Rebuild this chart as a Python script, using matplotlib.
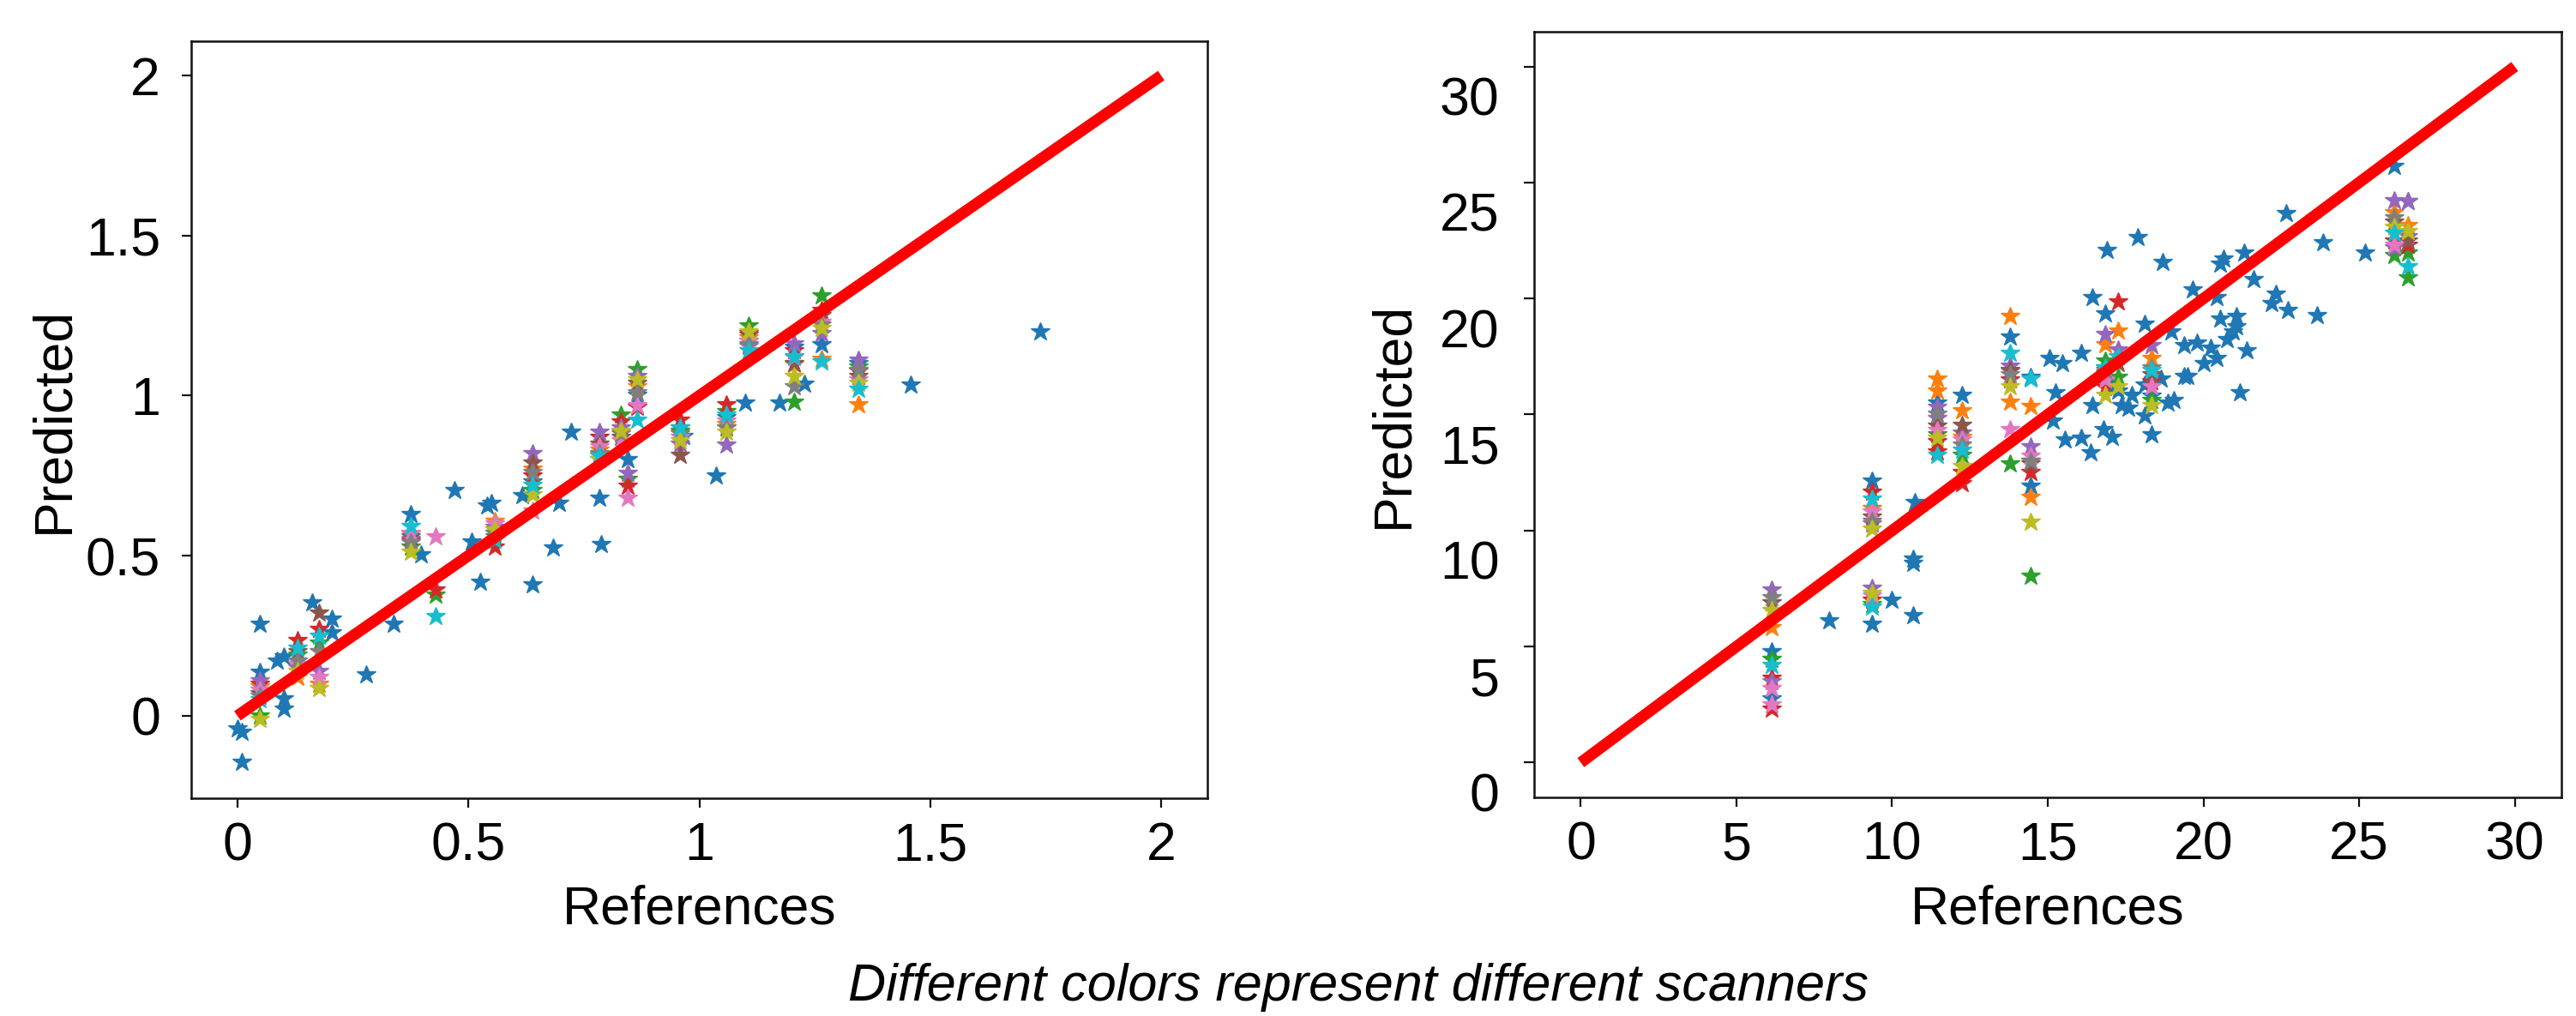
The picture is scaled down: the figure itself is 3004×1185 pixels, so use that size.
import numpy as np
import matplotlib
matplotlib.use("Agg")
import matplotlib.pyplot as plt
from matplotlib.ticker import FormatStrFormatter
from matplotlib.transforms import ScaledTranslation

plt.rcParams['font.family'] = ['Liberation Sans', 'DejaVu Sans']

# scanner colours (tab10 order)
scanner_colors = ['#1f77b4', '#ff7f0e', '#2ca02c', '#d62728', '#9467bd',
                  '#8c564b', '#e377c2', '#7f7f7f', '#bcbd22', '#17becf']

# ---- left panel: subjects measured on several scanners (one column each)
left_cols = [0.048, 0.131, 0.176, 0.376, 0.43, 0.558, 0.638, 0.784, 0.83, 0.845,
             0.865, 0.958, 1.058, 1.107, 1.206, 1.264, 1.344]
left_blue = [0.136, 0.17, None, 0.628, None, 0.57, 0.73, 0.80, None, 0.80,
             1.0, 0.9, 0.933, 1.17, 1.15, 1.16, 1.1]
left_orange = [0.09, 0.12, 0.10, 0.568, None, 0.607, 0.77, 0.83, 0.885, None,
               1.028, 0.885, 0.91, 1.18, 1.099, 1.115, 0.972]
left_green = [0.0, 0.19, 0.227, 0.528, 0.377, 0.56, 0.703, 0.814, 0.94, 0.74,
              1.083, 0.89, 0.95, 1.218, 0.98, 1.313, 1.09]
left_red = [0.1, 0.235, 0.27, 0.545, 0.393, 0.528, 0.75, 0.87, 0.917, 0.718,
            0.964, 0.925, 0.972, 1.194, 1.14, 1.266, 1.075]
left_purple = [0.11, 0.15, 0.14, 0.552, None, 0.59, 0.82, 0.885, 0.9, 0.758,
               1.06, 0.85, 0.845, 1.155, 1.163, 1.194, 1.112]
left_brown = [0.07, 0.2, 0.32, 0.56, None, 0.58, 0.79, 0.85, 0.87, None,
              1.04, 0.814, 0.9, 1.19, 1.1, 1.25, 1.06]
left_pink = [0.08, 0.16, 0.12, 0.57, 0.56, 0.6, 0.64, 0.84, 0.86, 0.679,
             0.97, 0.87, 0.92, 1.17, 1.12, 1.23, 1.05]
left_gray = [0.06, 0.17, 0.2, 0.54, None, 0.57, 0.76, 0.82, 0.88, None,
             1.01, 0.88, 0.9, 1.16, 1.028, 1.22, 1.08]
left_olive = [-0.01, 0.14, 0.085, 0.512, None, 0.58, 0.69, 0.80, 0.89, None,
              1.05, 0.86, 0.885, 1.2, 1.06, 1.21, 1.04]
left_cyan = [0.05, 0.21, 0.25, 0.592, 0.309, 0.55, 0.72, 0.81, None, None,
             0.925, 0.9, 0.94, 1.14, 1.123, 1.107, 1.02]

# subjects only scanned on the first scanner
left_single_x = [0.0, 0.009, 0.009, 0.048, 0.085, 0.1, 0.1, 0.1, 0.162, 0.204, 0.204,
                 0.278, 0.339, 0.398, 0.47, 0.507, 0.526, 0.54, 0.55, 0.616, 0.638,
                 0.683, 0.696, 0.722, 0.784, 0.788, 0.966, 1.036, 1.1, 1.174, 1.228,
                 1.458, 1.738]
left_single_y = [-0.04, -0.05, -0.146, 0.287, 0.171, 0.184, 0.052, 0.02, 0.354, 0.301,
                 0.259, 0.128, 0.287, 0.504, 0.703, 0.544, 0.417, 0.655, 0.663, 0.687,
                 0.409, 0.525, 0.663, 0.885, 0.679, 0.536, 0.873, 0.749, 0.977, 0.977,
                 1.036, 1.034, 1.2]

# ---- right panel
right_cols = [6.12, 6.12, 9.35, 9.35, 11.46, 11.46, 12.24, 12.24, 13.79, 13.79,
              14.46, 14.46, 16.85, 17.27, 18.32, 26.13, 26.13, 26.56, 26.56]
right_blue = [4.78, 2.74, 12.15, 5.98, 15.5, None, 15.84, None, 18.33, None,
              16.6, 11.92, 17.0, 16.0, 15.8, 25.7, None, 24.2, None]
right_orange = [5.8, None, 10.97, None, 16.52, 16.02, 15.16, 14.03, 19.24, 15.55,
                15.34, 11.42, 18.0, 18.6, 17.43, 23.7, None, 23.14, None]
right_green = [4.46, None, None, 6.8, 14.14, None, 13.23, None, 12.89, None,
               8.02, None, 17.31, 16.6, 15.6, 21.84, None, 20.89, 21.96]
right_red = [3.65, 2.29, 11.65, 7.0, 13.85, 13.39, 12.03, 12.5, 16.5, None,
             12.49, 13.0, 16.18, 19.85, 16.41, 22.5, None, 22.3, None]
right_purple = [7.46, 3.49, 10.29, 7.5, 14.82, 15.3, 14.2, None, 17.09, 16.85,
                13.62, None, 18.45, 17.8, 17.99, 24.22, 22.18, 24.18, 22.68]
right_brown = [6.9, None, 10.6, None, 14.5, None, 14.53, None, 16.9, None,
               12.89, None, 16.8, 17.2, 16.7, 23.3, None, 22.5, None]
right_pink = [3.2, 2.5, 10.8, 7.2, 14.3, None, 13.9, None, 14.37, None,
              13.2, None, 16.5, None, 16.2, 22.3, None, None, None]
right_gray = [7.1, None, 10.4, None, 15.0, None, 13.7, None, 16.7, None,
              13.0, None, 16.9, None, 17.0, 23.48, None, None, None]
right_olive = [6.55, None, 10.06, 7.3, 14.0, None, 12.78, None, 16.2, None,
               10.36, None, 15.84, 16.2, 15.39, 23.09, None, 22.9, None]
right_cyan = [4.2, None, 11.35, 6.7, 13.23, None, 13.46, None, 17.65, None,
              16.52, None, 17.0, 17.5, 16.9, 22.8, None, 21.39, None]

right_single_x = [7.98, 9.99, 10.68, 10.68, 10.68, 10.72, 16.89, 17.9, 18.7, 22.65,
                  23.85, 25.18, 20.65, 20.54, 21.32, 21.6, 19.65, 20.43, 16.42, 22.33,
                  22.19, 22.71, 23.66, 16.85, 18.11, 18.96, 19.38, 19.8, 20.22, 20.54,
                  21.07, 20.96, 20.75, 21.38, 20.43, 20.01, 19.49, 19.06, 18.85, 18.64,
                  18.11, 17.69, 17.37, 17.06, 16.64, 16.42, 16.07, 15.47, 15.05, 15.26,
                  15.16, 15.54, 16.07, 16.38, 16.8, 17.06, 18.32, 17.58, 21.17, 21.07,
                  19.38, 18.11]
right_single_y = [6.1, 7.0, 6.32, 8.6, 8.77, 11.2, 22.07, 22.64, 21.55, 23.66,
                  22.41, 21.96, 21.69, 21.5, 21.96, 20.83, 20.37, 20.03, 20.03, 20.19,
                  19.8, 19.5, 19.28, 19.35, 18.9, 18.56, 17.99, 18.1, 17.88, 19.13,
                  19.24, 18.56, 18.22, 17.77, 17.43, 17.2, 16.63, 15.61, 15.5, 16.52,
                  16.29, 15.84, 15.39, 16.18, 16.52, 15.39, 17.65, 17.2, 17.43, 15.95,
                  14.71, 13.91, 13.98, 13.35, 14.37, 14.03, 14.14, 15.27, 15.95, 18.79,
                  16.63, 14.93]

left_scanners = [left_blue, left_orange, left_green, left_red, left_purple,
                 left_brown, left_pink, left_gray, left_olive, left_cyan]
right_scanners = [right_blue, right_orange, right_green, right_red, right_purple,
                  right_brown, right_pink, right_gray, right_olive, right_cyan]

W, H = 3004, 1185
fig = plt.figure(figsize=(W / 100, H / 100), dpi=100)
ax1 = fig.add_axes([223 / W, 1 - 931 / H, 1185 / W, 883 / H])
ax2 = fig.add_axes([1789 / W, 1 - 930 / H, 1198 / W, 893 / H])

ms = 16.5


def draw_panel(ax, cols, scanners, sx, sy, lim):
    ax.plot(sx, sy, '*', color=scanner_colors[0], ms=ms, ls='none')
    for i, vals in enumerate(scanners):
        xs = [c for c, v in zip(cols, vals) if v is not None]
        ys = [v for v in vals if v is not None]
        ax.plot(xs, ys, '*', color=scanner_colors[i], ms=ms, ls='none')
    ax.plot([0, lim], [0, lim], color='#ff0000', lw=9.5, solid_capstyle='butt')
    for sp in ax.spines.values():
        sp.set_linewidth(1.8)
        sp.set_color('#111111')
    ax.tick_params(axis='both', labelsize=45, width=1.6, length=8, color='#111111')
    ax.tick_params(axis='x', pad=11)
    ax.tick_params(axis='y', pad=18)
    ax.set_xlabel('References', fontsize=45)
    ax.set_ylabel('Predicted', fontsize=45)
    ax.xaxis.set_label_coords(0.5, -0.114)


draw_panel(ax1, left_cols, left_scanners, left_single_x, left_single_y, 2)
ax1.set_xlim(-0.1, 2.1)
ax1.set_ylim(-0.2575, 2.1075)
ax1.set_xticks([0, 0.5, 1, 1.5, 2])
ax1.set_yticks([0, 0.5, 1, 1.5, 2])
ax1.xaxis.set_major_formatter(FormatStrFormatter('%g'))
ax1.yaxis.set_major_formatter(FormatStrFormatter('%g'))
ax1.yaxis.set_label_coords(-0.11, 0.5)

draw_panel(ax2, right_cols, right_scanners, right_single_x, right_single_y, 30)
ax2.set_xlim(-1.5, 31.5)
ax2.set_ylim(-1.5, 31.5)
ax2.set_xticks([0, 5, 10, 15, 20, 25, 30])
ax2.set_yticks([0, 5, 10, 15, 20, 25, 30])
ax2.tick_params(axis='y', length=9, pad=20)
ax2.yaxis.set_label_coords(-0.112, 0.5)

# right panel's y labels sit a little below their ticks in the original
shift = ScaledTranslation(0, -34 / 100, fig.dpi_scale_trans)
for t in ax2.yaxis.get_major_ticks():
    t.label1.set_transform(t.label1.get_transform() + shift)

fig.text(1584 / W, 1 - 1167 / H, 'Different colors represent different scanners',
         fontsize=44, style='italic', ha='center', va='baseline')

fig.savefig('out.png', dpi=100, facecolor='white')
